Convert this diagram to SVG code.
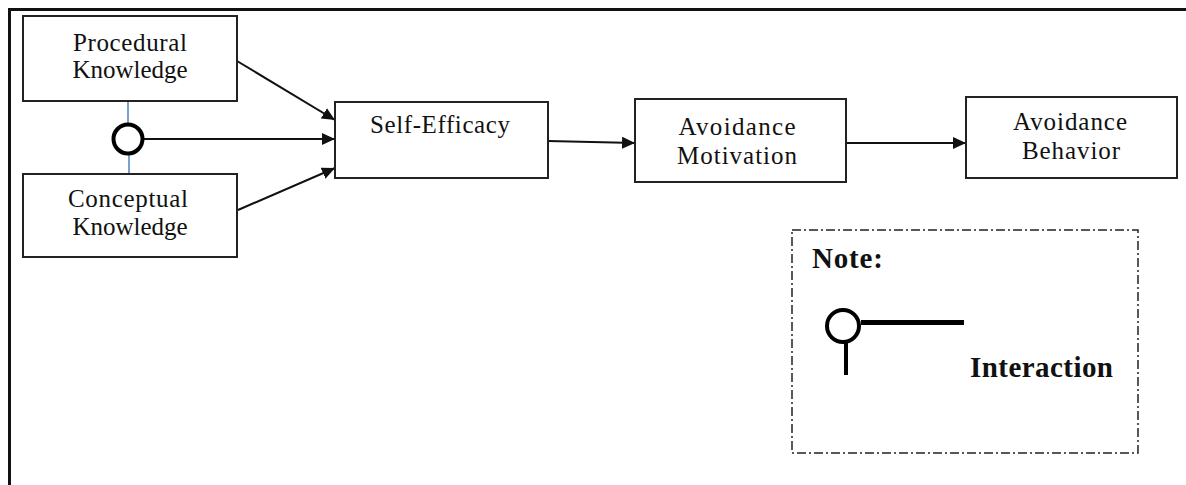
<svg xmlns="http://www.w3.org/2000/svg" width="1186" height="485" viewBox="0 0 1186 485">
<style>
.box{fill:#fff;stroke:#222;stroke-width:2}
.t{font-family:"Liberation Serif","Times New Roman",serif;font-size:25px;fill:#111;text-anchor:middle}
.b{font-family:"Liberation Serif","Times New Roman",serif;font-size:29px;font-weight:bold;fill:#111}
.c{stroke:#111;stroke-width:2;fill:none}
</style>
<defs>
<marker id="ah" viewBox="0 0 13 12" refX="13" refY="6" markerWidth="13" markerHeight="12" markerUnits="userSpaceOnUse" orient="auto">
<path d="M0,0 L13,6 L0,12 z" fill="#111"/>
</marker>
</defs>
<rect width="1186" height="485" fill="#fff"/>
<g id="frame">
<path d="M9.5,485 L9.5,9.5 L1186,9.5" fill="none" stroke="#111" stroke-width="3"/>
</g>
<g id="connectors">
<line x1="128" y1="101" x2="128" y2="124" stroke="#4f81bd" stroke-width="1.5"/>
<line x1="129" y1="155" x2="129" y2="174" stroke="#4f81bd" stroke-width="1.5"/>
<line class="c" x1="237" y1="61" x2="335" y2="120" marker-end="url(#ah)"/>
<line class="c" x1="144" y1="139" x2="335" y2="139" marker-end="url(#ah)"/>
<line class="c" x1="238" y1="210" x2="335" y2="168" marker-end="url(#ah)"/>
<line class="c" x1="548" y1="141" x2="635" y2="143" marker-end="url(#ah)"/>
<line class="c" x1="846" y1="143" x2="966" y2="143" marker-end="url(#ah)"/>
</g>
<g id="interaction">
<circle cx="128" cy="139" r="14.5" fill="#fff" stroke="#000" stroke-width="4"/>
</g>
<g id="procedural">
<rect class="box" x="23" y="16" width="214" height="85"/>
<text class="t" x="130" y="51" textLength="114" lengthAdjust="spacing">Procedural</text>
<text class="t" x="130" y="78" textLength="115" lengthAdjust="spacing">Knowledge</text>
</g>
<g id="conceptual">
<rect class="box" x="23" y="174" width="214" height="83"/>
<text class="t" x="128" y="207" textLength="120" lengthAdjust="spacing">Conceptual</text>
<text class="t" x="130" y="235" textLength="115" lengthAdjust="spacing">Knowledge</text>
</g>
<g id="selfefficacy">
<rect class="box" x="335" y="102" width="213" height="76"/>
<text class="t" x="440" y="133" textLength="140" lengthAdjust="spacing">Self-Efficacy</text>
</g>
<g id="motivation">
<rect class="box" x="635" y="99" width="211" height="83"/>
<text class="t" x="737" y="135" textLength="117" lengthAdjust="spacing">Avoidance</text>
<text class="t" x="737" y="164" textLength="120" lengthAdjust="spacing">Motivation</text>
</g>
<g id="behavior">
<rect class="box" x="966" y="97" width="211" height="81"/>
<text class="t" x="1070" y="130" textLength="114" lengthAdjust="spacing">Avoidance</text>
<text class="t" x="1071" y="159" textLength="98" lengthAdjust="spacing">Behavior</text>
</g>
<g id="note">
<rect x="792" y="230" width="346" height="223" fill="none" stroke="#222" stroke-width="1.5" stroke-dasharray="9 3 2 3"/>
<text class="b" x="812" y="268" textLength="71" lengthAdjust="spacing">Note:</text>
<circle cx="843" cy="326" r="16" fill="none" stroke="#000" stroke-width="4"/>
<line x1="861" y1="322.5" x2="964" y2="322.5" stroke="#000" stroke-width="5"/>
<line x1="846" y1="342" x2="846" y2="375" stroke="#000" stroke-width="4"/>
<text class="b" x="970" y="377" textLength="143" lengthAdjust="spacing">Interaction</text>
</g>
</svg>
